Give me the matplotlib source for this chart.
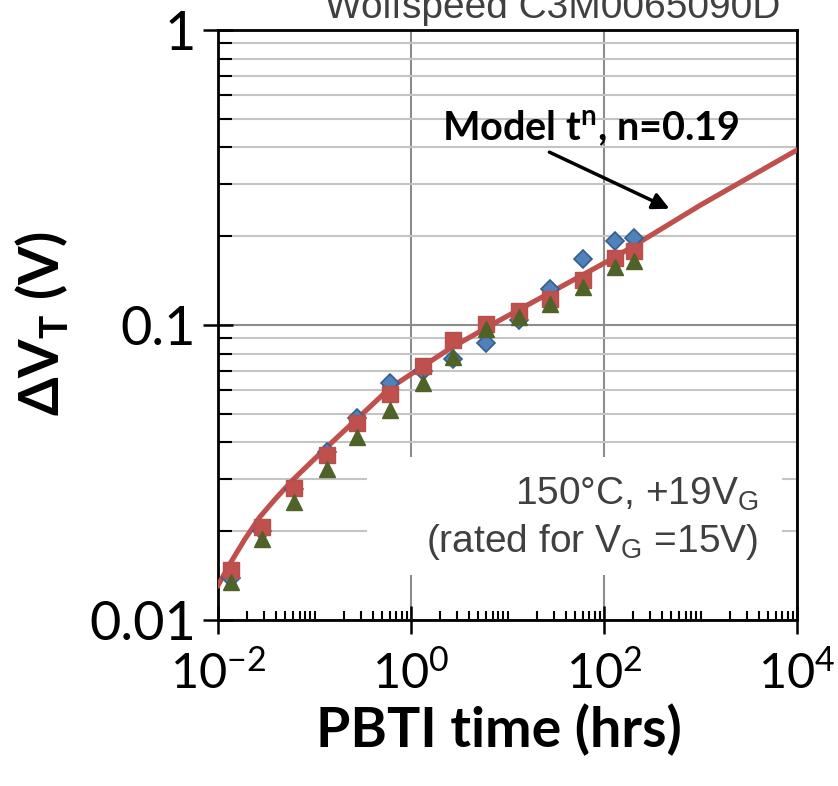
import matplotlib
matplotlib.use("Agg")
import matplotlib.pyplot as plt
import numpy as np
from matplotlib.patches import Rectangle
from matplotlib.ticker import FixedLocator, LogLocator, NullFormatter

# stress time (hrs) for every measurement
time_hrs = [0.0136, 0.0286, 0.062, 0.135, 0.278, 0.605, 1.33,
            2.75, 5.98, 13.2, 27.5, 60.5, 128.5, 205]

# threshold shift (V) for the three devices
dvt_diamond = [0.0139, 0.0200, 0.0278, 0.0371, 0.0484, 0.0636, 0.0698,
               0.0767, 0.0869, 0.1040, 0.1324, 0.1674, 0.1919, 0.1972]
dvt_square = [0.0148, 0.0207, 0.0280, 0.0362, 0.0466, 0.0583, 0.0726,
              0.0890, 0.1008, 0.1115, 0.1225, 0.1421, 0.1687, 0.1775]
dvt_triangle = [0.01345, 0.0188, 0.0251, 0.0325, 0.0417, 0.0515, 0.0635,
                0.0776, 0.0969, 0.1064, 0.1178, 0.1345, 0.1573, 0.1648]

# model curve
model_t = [0.01, 0.0136, 0.019, 0.027, 0.04, 0.06, 0.09, 0.135, 0.193,
           0.275, 0.404, 0.6, 1.24, 2.5, 8.4, 127, 1000, 10000]
model_dvt = [0.0131, 0.0157, 0.0188, 0.0223, 0.0259, 0.0299, 0.034, 0.0386,
             0.0431, 0.048, 0.054, 0.061, 0.0714, 0.083, 0.104, 0.169, 0.255, 0.392]

x_ticks = [1e-2, 1e0, 1e2, 1e4]
x_tick_labels = [r"$\mathregular{10^{-2}}$", r"$\mathregular{10^{0}}$",
                 r"$\mathregular{10^{2}}$", r"$\mathregular{10^{4}}$"]
y_ticks = [0.01, 0.1, 1]
y_tick_labels = ["0.01", "0.1", "1"]

plt.rcParams["mathtext.fontset"] = "custom"
plt.rcParams["mathtext.rm"] = "Lato"
plt.rcParams["mathtext.bf"] = "Lato:bold"
plt.rcParams["font.family"] = ["Lato", "DejaVu Sans"]

fig = plt.figure(figsize=(8.38, 7.86), dpi=100)
ax = fig.add_axes([218 / 838, 166 / 786, 579 / 838, 590 / 786])
ax.set_xscale("log")
ax.set_yscale("log")
ax.set_xlim(1e-2, 1e4)
ax.set_ylim(0.01, 1)

ax.plot(model_t, model_dvt, color="#C0504D", lw=3.7, zorder=3,
        solid_joinstyle="round")
ax.plot(time_hrs, dvt_diamond, ls="none", marker="D", ms=9.5, mfc="#4F81BD",
        mec="#385D8A", mew=1.2, zorder=4)
ax.plot(time_hrs, dvt_square, ls="none", marker="s", ms=11, mfc="#C0504D",
        mec="#B5504C", mew=1.0, zorder=5)
ax.plot(time_hrs, dvt_triangle, ls="none", marker="^", ms=12, mfc="#4F6228",
        mec="#4F6228", mew=1.0, zorder=6)

# ticks and grid
ax.set_xticks(x_ticks)
ax.set_xticklabels(x_tick_labels)
minor_x = [k * 10.0 ** e for e in range(-2, 4) for k in range(2, 11)]
minor_x = [v for v in minor_x if not np.isclose(np.log10(v) % 2, 0)]
ax.xaxis.set_minor_locator(FixedLocator(minor_x))
ax.xaxis.set_minor_formatter(NullFormatter())
ax.set_yticks(y_ticks)
ax.set_yticklabels(y_tick_labels)
ax.yaxis.set_minor_locator(LogLocator(base=10, subs=np.arange(2, 10), numticks=20))
ax.yaxis.set_minor_formatter(NullFormatter())

ax.tick_params(axis="y", which="major", labelsize=39, colors="black")
ax.tick_params(axis="x", which="major", labelsize=35, colors="black")
ax.tick_params(axis="y", which="major", direction="inout", length=22, width=1.8, pad=5)
ax.tick_params(axis="y", which="minor", direction="in", length=10, width=1.5)
ax.tick_params(axis="x", which="major", direction="inout", length=20, width=1.8, pad=11)
ax.tick_params(axis="x", which="minor", direction="in", length=6.5, width=1.5)

ax.set_axisbelow(True)
ax.grid(axis="x", which="major", color="#8C8C8C", lw=1.5)
ax.grid(axis="y", which="major", color="#8C8C8C", lw=1.5)
ax.grid(axis="y", which="minor", color="#C4C4C4", lw=1.5)
for s in ax.spines.values():
    s.set_linewidth(2)

# conditions box
ax.add_patch(Rectangle((0.35, 0.01423), 7000 - 0.35, 0.0357 - 0.01423,
                       facecolor="white", edgecolor="none", zorder=2))
ax.text(3945, 0.02455, r"150°C, +19V$_\mathregular{G}$", ha="right", va="baseline",
        fontsize=28, color="#404040", family="Liberation Sans", zorder=7)
ax.text(3945, 0.01702, r"(rated for V$_\mathregular{G}$ =15V)", ha="right",
        va="baseline", fontsize=28, color="#404040", family="Liberation Sans", zorder=7)

# model annotation
ax.text(2.09, 0.424, r"Model $\mathregular{t^n}$, n=0.19", ha="left", va="baseline",
        fontsize=28.5, fontweight="bold", zorder=7)
ax.annotate("", xy=(507, 0.2455), xytext=(25.6, 0.389),
            arrowprops=dict(arrowstyle="-|>,head_length=1.0,head_width=0.5",
                            color="black", lw=2.5), zorder=7)

ax.set_xlabel("PBTI time (hrs)", fontsize=40, fontweight="bold")
ax.set_ylabel(r"ΔV$_\mathregular{T}$ (V)", fontsize=40, fontweight="bold")
ax.xaxis.set_label_coords(0.485, -0.142)
ax.yaxis.set_label_coords(-0.256, 0.503)

fig.text(0.659, 1 - 18 / 786, "Wolfspeed C3M0065090D", ha="center", va="baseline",
         fontsize=28, color="#404040", family="Liberation Sans")

fig.savefig("out.png", dpi=100)
